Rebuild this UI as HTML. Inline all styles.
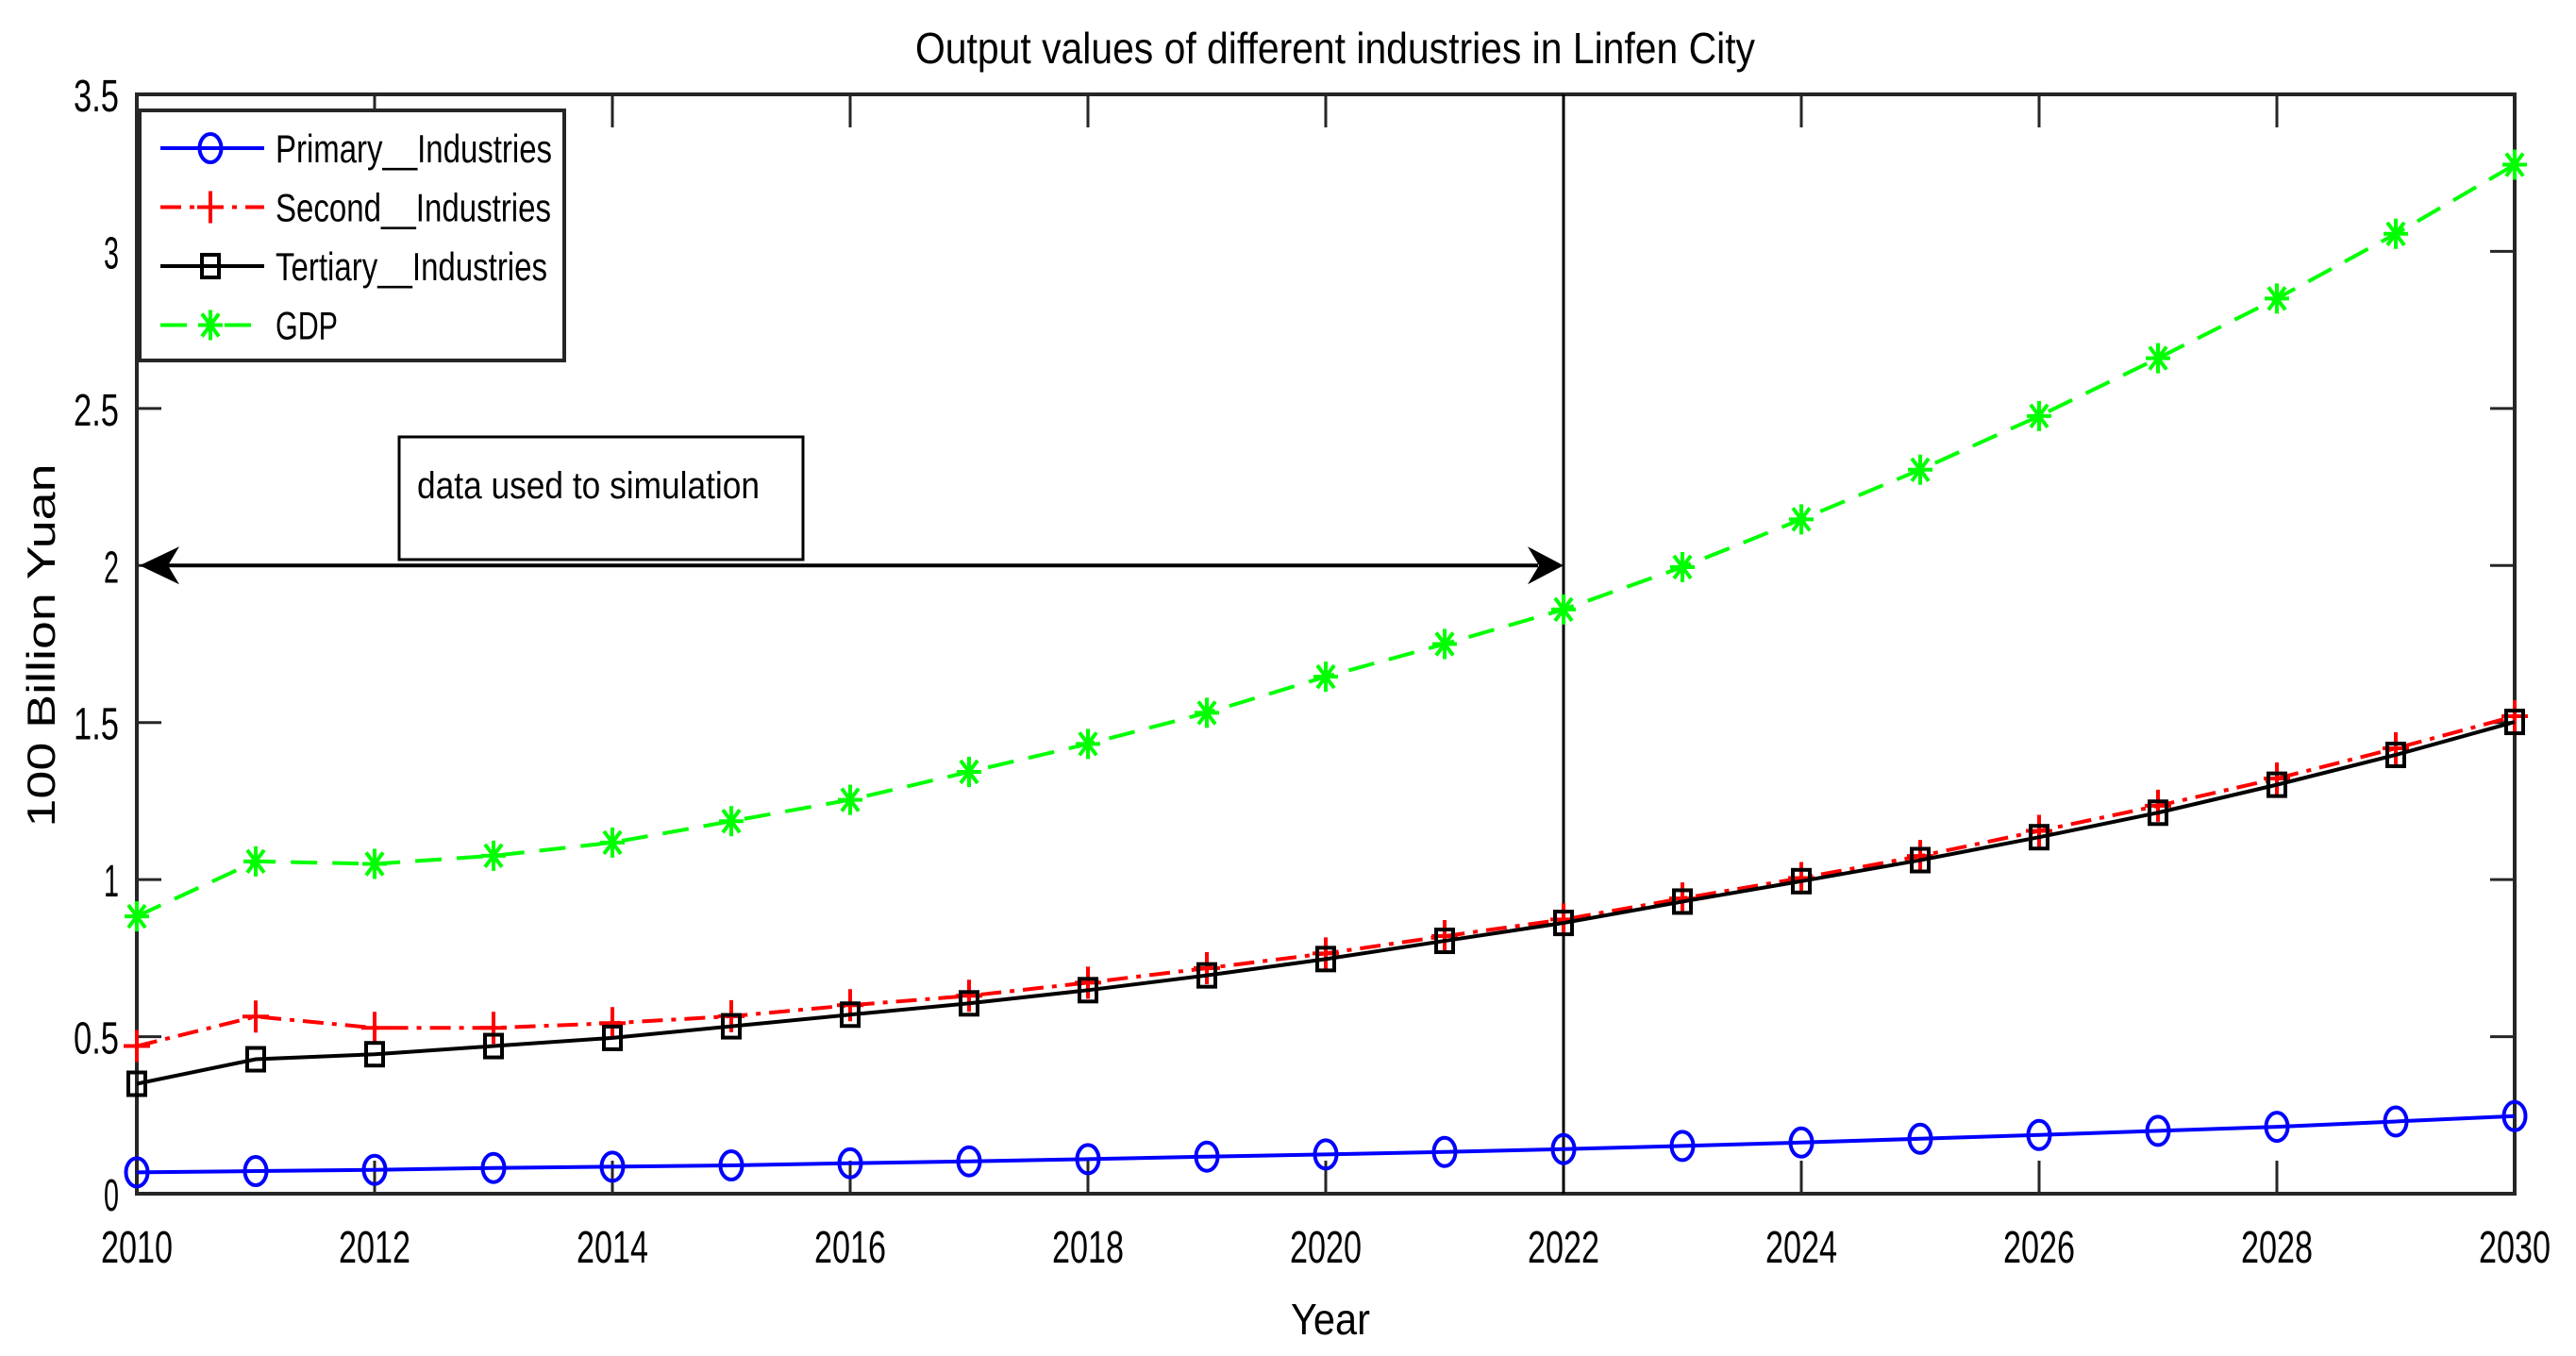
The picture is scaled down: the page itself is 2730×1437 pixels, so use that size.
<!DOCTYPE html>
<html><head><meta charset="utf-8"><style>
html,body{margin:0;padding:0;background:#fff}
svg{display:block}
text{font-family:"Liberation Sans",sans-serif;fill:#000}
</style></head><body>
<svg id="chart" width="2730" height="1437" viewBox="0 0 2730 1437" xmlns="http://www.w3.org/2000/svg">
<rect x="0" y="0" width="2730" height="1437" fill="#fff"/>
<g id="plot"></g>
</svg>
<script>
const years = [2010,2011,2012,2013,2014,2015,2016,2017,2018,2019,2020,2021,2022,2023,2024,2025,2026,2027,2028,2029,2030];
const primary = [0.068,0.072,0.076,0.082,0.086,0.09,0.097,0.103,0.11,0.118,0.125,0.133,0.142,0.152,0.163,0.175,0.187,0.2,0.213,0.23,0.247];
const second = [0.47,0.564,0.528,0.528,0.543,0.565,0.6,0.63,0.672,0.718,0.765,0.82,0.873,0.94,1.005,1.075,1.155,1.235,1.322,1.418,1.52];
const tertiary = [0.35,0.428,0.444,0.47,0.496,0.533,0.57,0.606,0.648,0.695,0.747,0.805,0.862,0.93,0.995,1.062,1.135,1.213,1.302,1.397,1.502];
const gdp = [0.883,1.058,1.05,1.076,1.118,1.186,1.254,1.343,1.432,1.531,1.646,1.75,1.86,1.995,2.147,2.305,2.476,2.66,2.85,3.056,3.276];
const xTicks = [2010,2012,2014,2016,2018,2020,2022,2024,2026,2028,2030];
const yTicks = [0,0.5,1,1.5,2,2.5,3,3.5];
const yTickLabels = ["0","0.5","1","1.5","2","2.5","3","3.5"];

const NS="http://www.w3.org/2000/svg";
const L=145,R=2665,T=100,B=1265;
const X=v=>L+(v-2010)/20*(R-L);
const Y=v=>B-v/3.5*(B-T);
const svg=document.getElementById('chart');
function mk(tag,attrs,parent){const e=document.createElementNS(NS,tag);for(const k in attrs)e.setAttribute(k,attrs[k]);(parent||svg).appendChild(e);return e;}

const box=mk('rect',{x:L,y:T,width:R-L,height:B-T,fill:'none',stroke:'#262626','stroke-width':4});


xTicks.forEach(t=>{
  const x=X(t);
  const a=mk('line',{x1:x,y1:B,x2:x,y2:B-35,stroke:'#262626','stroke-width':3});
  
  
  const b=mk('line',{x1:x,y1:T,x2:x,y2:T+35,stroke:'#262626','stroke-width':3});
  
  
  const tx=mk('text',{x:x,y:1338,'font-size':48,'text-anchor':'middle',textLength:76,lengthAdjust:'spacingAndGlyphs',fill:'#262626'});
  tx.textContent=String(t);
  
  
});
yTicks.forEach((t,i)=>{
  const y=Y(t);
  const a=mk('line',{x1:L,y1:y,x2:L+26,y2:y,stroke:'#262626','stroke-width':3});
  
  
  const b=mk('line',{x1:R,y1:y,x2:R-26,y2:y,stroke:'#262626','stroke-width':3});
  
  
  const lab=yTickLabels[i];
  const tx=mk('text',{x:126,y:y+18,'font-size':48,'text-anchor':'end',textLength:lab.length*16,lengthAdjust:'spacingAndGlyphs',fill:'#262626'});
  tx.textContent=lab;
  
  
});

const vl=mk('line',{x1:X(2022),y1:T,x2:X(2022),y2:B,stroke:'#000','stroke-width':3});



function series(vals,color,dash,marker,name){
  const g=mk('g',{});
  
  
  const pts=vals.map((v,i)=>X(years[i])+','+Y(v)).join(' ');
  const pl=mk('polyline',{points:pts,fill:'none',stroke:color,'stroke-width':4,'stroke-dasharray':dash},g);
  
  
  vals.forEach((v,i)=>{drawMarker(marker,X(years[i]),Y(v),color,g,name);});
}
function drawMarker(m,x,y,c,g,name){
  let e;
  if(m==='o'){e=mk('ellipse',{cx:x,cy:y,rx:11.5,ry:15,fill:'none',stroke:c,'stroke-width':4},g);}
  else if(m==='s'){e=mk('rect',{x:x-9,y:y-12,width:18,height:24,fill:'none',stroke:c,'stroke-width':4},g);}
  else if(m==='+'){e=mk('path',{d:`M${x-14} ${y}H${x+14}M${x} ${y-17}V${y+17}`,stroke:c,'stroke-width':4,fill:'none'},g);}
  else {e=mk('path',{d:`M${x-13} ${y}H${x+13}M${x} ${y-16}V${y+16}M${x-9} ${y-12}L${x+9} ${y+12}M${x+9} ${y-12}L${x-9} ${y+12}`,stroke:c,'stroke-width':4,fill:'none'},g);}
  
  
}
series(primary,'#0000ff','none','o','primary-industries');
series(second,'#ff0000','22 9 5 9','+','second-industries');
series(tertiary,'#000000','none','s','tertiary-industries');
series(gdp,'#00ff00','28 16','*','gdp');

const ay=Y(2);
const ar=mk('line',{x1:170,y1:ay,x2:1630,y2:ay,stroke:'#000','stroke-width':4});


const ahL=mk('path',{d:`M148 ${ay} L190 ${ay-20} L178 ${ay} L190 ${ay+20} Z`,fill:'#000'});


const ahR=mk('path',{d:`M${X(2022)} ${ay} L${X(2022)-38} ${ay-20} L${X(2022)-26} ${ay} L${X(2022)-38} ${ay+20} Z`,fill:'#000'});



const ab=mk('rect',{x:423,y:463,width:428,height:130,fill:'#fff',stroke:'#000','stroke-width':3});


const at=mk('text',{x:442,y:528,'font-size':40,textLength:363,lengthAdjust:'spacingAndGlyphs'});
at.textContent='data used to simulation';



const lg=mk('g',{});


const lb=mk('rect',{x:148,y:117,width:450,height:265,fill:'#fff',stroke:'#262626','stroke-width':4},lg);


const legNames=['Primary__Industries','Second__Industries','Tertiary__Industries','GDP'];
const legColors=['#0000ff','#ff0000','#000000','#00ff00'];
const legDash=['none','22 9 5 9','none','28 40'];
const legMarks=['o','+','s','*'];
const legW=[293,292,288,66];
legNames.forEach((n,i)=>{
  const y=157+i*62.5;
  const ln=mk('line',{x1:170,y1:y,x2:280,y2:y,stroke:legColors[i],'stroke-width':4,'stroke-dasharray':legDash[i]},lg);
  
  
  drawMarker(legMarks[i],223,y,legColors[i],lg,'legend');
  const t=mk('text',{x:292,y:y+15,'font-size':42,textLength:legW[i],lengthAdjust:'spacingAndGlyphs'},lg);
  t.textContent=n;
  
  
});

const tt=mk('text',{x:1415,y:67,'font-size':46,'text-anchor':'middle',textLength:890,lengthAdjust:'spacingAndGlyphs'});
tt.textContent='Output values of different industries in Linfen City';


const xt=mk('text',{x:1410,y:1414,'font-size':46,'text-anchor':'middle',textLength:84,lengthAdjust:'spacingAndGlyphs',fill:'#262626'});
xt.textContent='Year';


const yt=mk('text',{x:0,y:0,'font-size':42,'text-anchor':'middle',transform:'translate(58,684) rotate(-90)',textLength:385,lengthAdjust:'spacingAndGlyphs',fill:'#262626'});
yt.textContent='100 Billion Yuan';


</script>
</body></html>
